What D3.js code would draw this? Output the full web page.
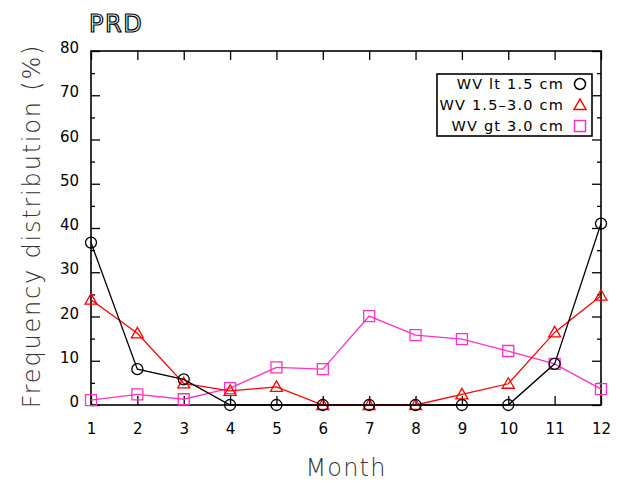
<!DOCTYPE html>
<html>
<head>
<meta charset="utf-8">
<script src="https://cdn.jsdelivr.net/npm/d3@7/dist/d3.min.js"></script>
<style>
  html, body { margin: 0; padding: 0; background: #fff; }
  svg { display: block; }
  text { font-family: "DejaVu Sans", sans-serif; }
</style>
</head>
<body>
<svg id="chart" width="625" height="483"></svg>
<script>
// Monthly frequency distribution of water vapour classes, PRD
const months = [1, 2, 3, 4, 5, 6, 7, 8, 9, 10, 11, 12];
const wvLow  = [36.7, 8.1, 5.8, 0, 0, 0, 0, 0, 0, 0, 9.3, 41.0];
const wvMid  = [23.8, 16.2, 4.9, 3.2, 4.1, 0, 0, 0, 2.4, 4.8, 16.4, 24.7];
const wvHigh = [1.1, 2.4, 1.3, 3.8, 8.5, 8.1, 20.1, 15.8, 14.9, 12.2, 9.3, 3.6];
const yTicks = [0, 10, 20, 30, 40, 50, 60, 70, 80];
const seriesNames = ["WV lt 1.5 cm", "WV 1.5\u20133.0 cm", "WV gt 3.0 cm"];
const seriesColors = ["#000000", "#ff0000", "#ff33bb"];
const seriesSymbols = ["circle", "triangle", "square"];

const svg = d3.select("#chart");
const plotLeft = 91, plotRight = 601, plotTop = 51, plotBottom = 405;

const x = d3.scaleLinear().domain([1, 12]).range([plotLeft, plotRight]);
const y = d3.scaleLinear().domain([0, 80]).range([plotBottom, plotTop]);

// Frame
svg.append("rect")
  .attr("x", plotLeft).attr("y", plotTop)
  .attr("width", plotRight - plotLeft).attr("height", plotBottom - plotTop)
  .attr("fill", "none").attr("stroke", "#000").attr("stroke-width", 1.6);

// Axes with inward ticks
const bottomAxis = d3.axisBottom(x).tickValues(months).tickSize(-9).tickPadding(18).tickFormat(d3.format("d"));
const topAxis = d3.axisTop(x).tickValues(months).tickSize(-9).tickFormat("");
const leftAxis = d3.axisLeft(y).tickValues(yTicks).tickSize(-9).tickPadding(12).tickFormat(d3.format("d"));
const rightAxis = d3.axisRight(y).tickValues(yTicks).tickSize(-9).tickFormat("");
const minor = d3.range(5, 80, 10);
const leftMinor = d3.axisLeft(y).tickValues(minor).tickSize(-4).tickFormat("");
const rightMinor = d3.axisRight(y).tickValues(minor).tickSize(-4).tickFormat("");

function styleAxis(g) {
  g.select(".domain").remove();
  g.selectAll(".tick line").attr("stroke", "#000").attr("stroke-width", 1.3);
  g.selectAll(".tick text").attr("fill", "#000").attr("font-size", 15);
}

svg.append("g").attr("transform", `translate(0,${plotBottom})`).call(bottomAxis).call(styleAxis);
svg.append("g").attr("transform", `translate(0,${plotTop})`).call(topAxis).call(styleAxis);
svg.append("g").attr("transform", `translate(${plotLeft},0)`).call(leftAxis).call(styleAxis)
  .selectAll(".tick text").attr("dy", "0.1em");
svg.append("g").attr("transform", `translate(${plotRight},0)`).call(rightAxis).call(styleAxis);
svg.append("g").attr("transform", `translate(${plotLeft},0)`).call(leftMinor).call(styleAxis);
svg.append("g").attr("transform", `translate(${plotRight},0)`).call(rightMinor).call(styleAxis);

// Marker paths
function symbolPath(kind, cx, cy) {
  if (kind === "circle") {
    const r = 5.5;
    return `M${cx - r},${cy}a${r},${r} 0 1,0 ${2 * r},0a${r},${r} 0 1,0 ${-2 * r},0Z`;
  }
  if (kind === "triangle") {
    const s = 6;
    return `M${cx},${cy - s}L${cx + s},${cy + s * 0.75}L${cx - s},${cy + s * 0.75}Z`;
  }
  const h = 5.5;
  return `M${cx - h},${cy - h}H${cx + h}V${cy + h}H${cx - h}Z`;
}

const seriesData = [wvLow, wvMid, wvHigh];
const line = d3.line().x((d, i) => x(months[i])).y(d => y(d));

// Draw pink first, then red, then black on top
[2, 1, 0].forEach(k => {
  const vals = seriesData[k];
  svg.append("path")
    .attr("d", line(vals))
    .attr("fill", "none")
    .attr("stroke", seriesColors[k])
    .attr("stroke-width", 1.3);
  svg.append("g").selectAll("path")
    .data(vals)
    .join("path")
    .attr("d", (d, i) => symbolPath(seriesSymbols[k], x(months[i]), y(d)))
    .attr("fill", "none")
    .attr("stroke", seriesColors[k])
    .attr("stroke-width", 1.3);
});

// Legend
const legend = svg.append("g");
legend.append("rect")
  .attr("x", 437).attr("y", 74).attr("width", 155).attr("height", 62)
  .attr("fill", "#fff").attr("stroke", "#000").attr("stroke-width", 1.6);
seriesNames.forEach((name, k) => {
  const ly = 84 + k * 21;
  legend.append("text")
    .attr("x", 564).attr("y", ly).attr("dy", "0.35em")
    .attr("text-anchor", "end").attr("font-size", 14.5)
    .attr("letter-spacing", 1.2).attr("fill", "#000")
    .text(name);
  legend.append("path")
    .attr("d", symbolPath(seriesSymbols[k], 580, ly))
    .attr("fill", "none").attr("stroke", seriesColors[k]).attr("stroke-width", 1.5);
});

// Titles
svg.append("text")
  .attr("x", 89).attr("y", 32)
  .attr("font-size", 24).attr("letter-spacing", 1.5).attr("fill", "#fff")
  .attr("stroke", "#000").attr("stroke-width", 1.2)
  .text("PRD");

svg.append("text")
  .attr("x", (plotLeft + plotRight) / 2).attr("y", 476)
  .attr("text-anchor", "middle").attr("font-size", 24).attr("font-weight", 300)
  .attr("letter-spacing", 1.2).attr("fill", "#333")
  .text("Month");

svg.append("text")
  .attr("transform", `translate(40,${(plotTop + plotBottom) / 2 - 2}) rotate(-90)`)
  .attr("text-anchor", "middle").attr("font-size", 24).attr("font-weight", 300)
  .attr("letter-spacing", 1.8).attr("fill", "#333")
  .text("Frequency distribution (%)");
</script>
</body>
</html>
